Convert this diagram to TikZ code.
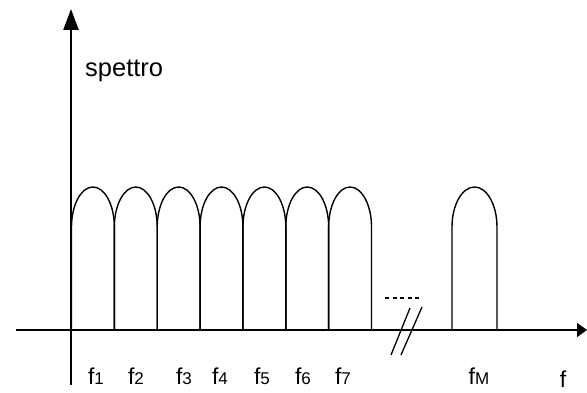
\documentclass[tikz,border=0pt]{standalone}
\usepackage{fontspec}
\setmainfont{Liberation Sans}
\usetikzlibrary{positioning,arrows.meta}
\newcommand{\fsub}[1]{f{\fontsize{17}{17}\selectfont #1}}
\begin{document}
\begin{tikzpicture}[x=1pt,y=1pt]
        \tikzset{
            yaxis/.style={line width=2.4pt, -{Triangle[length=21pt,width=15pt]}},
            xaxis/.style={line width=1.5pt, -{Triangle[length=10pt,width=14pt]}},
            lobe/.style={line width=1.4pt},
            flabel/.style={anchor=base, inner sep=0pt, font=\fontsize{23}{23}\selectfont}
        }
        \useasboundingbox (0,0) rectangle (587,393);
        \coordinate (ybot) at (71,8);
        \coordinate (ytop) at (71,384);
        \coordinate (xleft) at (16,63);
        \coordinate (xright) at (587,63);
        \draw[yaxis] (ybot) -- (ytop);
        \draw[xaxis] (xleft) -- (xright);
        \node[anchor=base west, inner sep=0pt, font=\fontsize{25.5}{25.5}\selectfont] (spettro) at (85,316) {spettro};
        \foreach \i in {0,...,6}{
            \pgfmathsetmacro{\xa}{71.5+42.86*\i}
            \draw[lobe] (\xa,63) -- (\xa,166) arc[start angle=180, end angle=0, x radius=21.43, y radius=40] -- (\xa+42.86,63);
        }
        \draw[lobe] (452,63) -- (452,166) arc[start angle=180, end angle=0, x radius=22.5, y radius=40] -- (497,63);
        \coordinate (dotsA) at (385,95);
        \coordinate (dotsB) at (419,95);
        \draw[line width=1.2pt, dash pattern=on 4pt off 3.5pt] (dotsA) -- (dotsB);
        \coordinate (cutA) at (391,38);
        \coordinate (cutB) at (410,85);
        \coordinate (cutC) at (401,38);
        \coordinate (cutD) at (422,86);
        \draw[line width=1.3pt] (cutA) -- (cutB);
        \draw[line width=1.3pt] (cutC) -- (cutD);
        \node[flabel] (f1) at (96,8) {\fsub{1}};
        \node[flabel] (f2) at (136,8) {\fsub{2}};
        \node[flabel] (f3) at (184,8) {\fsub{3}};
        \node[flabel] (f4) at (220,8) {\fsub{4}};
        \node[flabel] (f5) at (262,8) {\fsub{5}};
        \node[flabel] (f6) at (303,8) {\fsub{6}};
        \node[flabel] (f7) at (343,8) {\fsub{7}};
        \node[flabel] (fM) at (479,8) {\fsub{M}};
        \node[flabel] (f) at (563,5) {f};
    \end{tikzpicture}
\end{document}
